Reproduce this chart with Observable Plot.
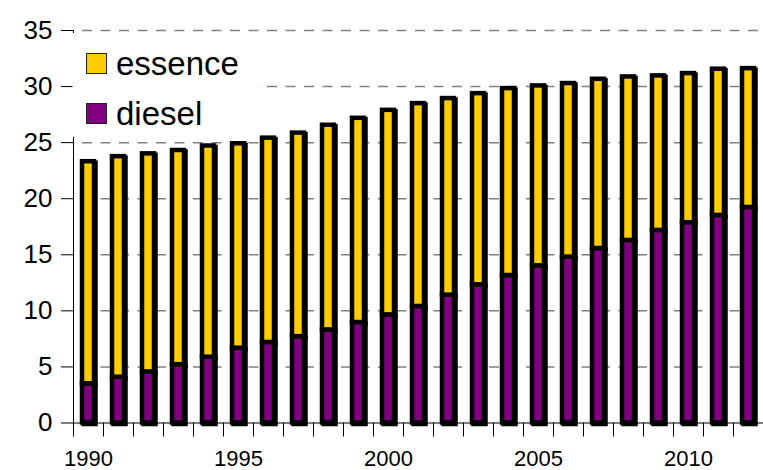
<!DOCTYPE html>
<html><head><meta charset="utf-8">
<script src="https://cdn.jsdelivr.net/npm/d3@7"></script>
<script src="https://cdn.jsdelivr.net/npm/@observablehq/plot@0.6"></script>
<style>
html,body{margin:0;padding:0;background:#fff;}
#chart svg{display:block;}
</style>
</head><body><div id="chart"></div>
<script>
const years = [1990,1991,1992,1993,1994,1995,1996,1997,1998,1999,2000,2001,2002,2003,2004,2005,2006,2007,2008,2009,2010,2011,2012];
const diesel = [3.5,4.08,4.55,5.2,5.87,6.67,7.18,7.7,8.3,8.96,9.64,10.39,11.4,12.32,13.15,14.02,14.79,15.56,16.28,17.17,17.86,18.51,19.22];
const essence = [19.8,19.67,19.45,19.1,18.83,18.23,18.22,18.15,18.25,18.21,18.24,18.09,17.53,17.05,16.67,16.04,15.48,15.09,14.58,13.78,13.3,13.04,12.38];
const seriesNames = ["essence","diesel"];
const seriesColors = ["#FFCC00","#800080"];
const yTicks = [0,5,10,15,20,25,30,35];
const xTickLabels = [1990,1995,2000,2005,2010];

const rows = [];
years.forEach((yr,i)=>rows.push({year:yr, fuel:"diesel", value:diesel[i]}));
years.forEach((yr,i)=>rows.push({year:yr, fuel:"essence", value:essence[i]}));

const font = "'Liberation Sans', Arial, sans-serif";

const yAxisLine = (index, scales, values, dims) => {
  const g = d3.create("svg:g");
  g.append("line")
    .attr("x1", dims.marginLeft + 0.5).attr("x2", dims.marginLeft + 0.5)
    .attr("y1", scales.y(35)).attr("y2", scales.y(0))
    .attr("stroke", "black").attr("stroke-width", 1);
  return g.node();
};

const legend = (index, scales, values, dims) => {
  const g = d3.create("svg:g");
  g.append("rect").attr("x", dims.marginLeft - 0.5).attr("y", 33)
    .attr("width", 186).attr("height", 104).attr("fill", "white");
  seriesNames.forEach((name, i) => {
    const cy = 63.5 + i * 50;
    g.append("rect").attr("x", 86.5).attr("y", cy - 10)
      .attr("width", 20).attr("height", 20)
      .attr("fill", seriesColors[i]).attr("stroke", "#222").attr("stroke-width", 1);
    g.append("text").attr("x", 116).attr("y", cy + 11.5)
      .attr("text-anchor", "start")
      .attr("font-size", 33).attr("font-family", font).attr("fill", "black")
      .text(name);
  });
  return g.node();
};

const chart = Plot.plot({
  width: 763, height: 470,
  marginLeft: 73, marginRight: 0, marginTop: 30, marginBottom: 47.5,
  style: {fontFamily: font, background: "white", color: "black"},
  x: {type: "band", domain: years, paddingInner: 0.6, paddingOuter: 0.3, axis: null},
  y: {domain: [0, 35], axis: null},
  color: {domain: seriesNames, range: seriesColors},
  marks: [
    Plot.gridY(yTicks.filter(t => t > 0), {stroke: "#808080", strokeOpacity: 1, strokeWidth: 1.5, strokeDasharray: "10,8.5", strokeDashoffset: -9}),
    Plot.axisY(yTicks, {tickSize: 12, tickPadding: 9, fontSize: 26, label: null}),
    yAxisLine,
    legend,
    Plot.ruleY([0], {stroke: "black", strokeWidth: 1}),
    Plot.ruleX(years, {x: d => d, y1: 0, y2: -1.25, dx: -15, stroke: "black"}),
    Plot.ruleX(years.slice(-1), {x: d => d, y1: 0, y2: -1.25, dx: 15, stroke: "black"}),
    Plot.axisX(xTickLabels, {tickSize: 0, tickPadding: 27, fontSize: 22, label: null, tickFormat: d => String(d)}),
    Plot.barY(rows, {x: "year", y: "value", fill: "black", stroke: "black", strokeWidth: 4.5, dx: 1.5, dy: 1.5}),
    Plot.barY(rows, {x: "year", y: "value", fill: "fuel", stroke: "black", strokeWidth: 4.5})
  ]
});
document.getElementById("chart").appendChild(chart);
</script>
</body></html>
